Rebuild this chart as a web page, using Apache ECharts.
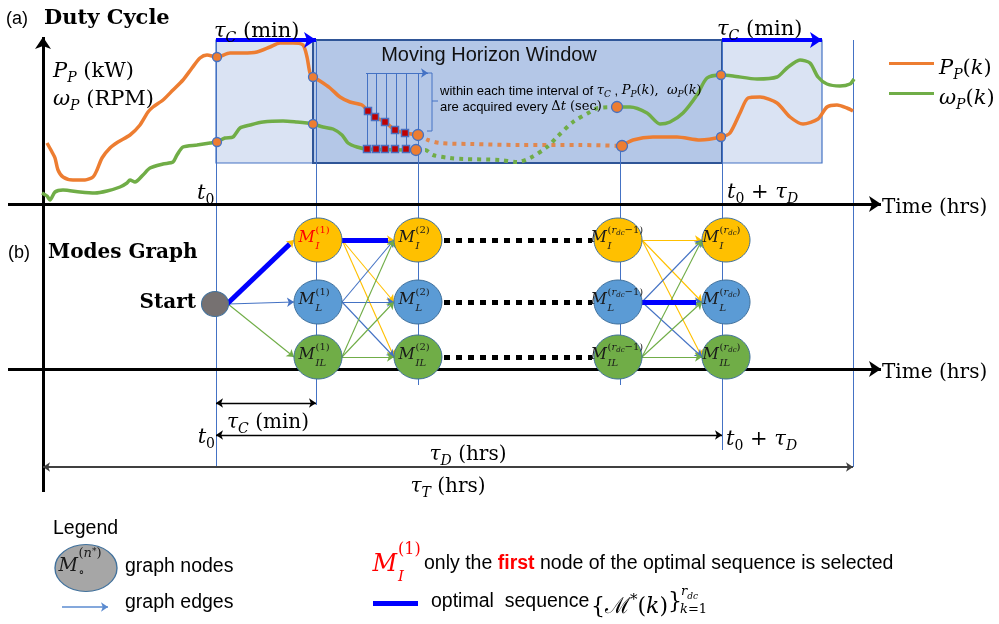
<!DOCTYPE html>
<html>
<head>
<meta charset="utf-8">
<script src="https://cdn.jsdelivr.net/npm/echarts@6/dist/echarts.min.js"></script>
<style>
  html, body { margin: 0; padding: 0; background: #fff; }
  #chart { width: 999px; height: 624px; }
</style>
</head>
<body>
<div id="chart"></div>
<script>
// ---------------- data (time on x, level on y; both in drawing units) ----------------
const powerHistory = [[47,143],[52,152],[55,158],[58,170],[63,177],[73,180],[85,180],[93,177],[97,170],[102,158],[110,148],[118,142],[130,135],[140,125],[148,112],[153,107],[163,100],[173,90],[183,80],[192,68],[200,58],[207,55],[217,57],[230,53],[243,53],[257,52],[270,47],[280,43],[293,43],[303,45],[307,57],[310,73],[313,77],[320,81],[330,88],[340,97],[350,102],[362,105],[368,111],[375,117],[385,122],[395,130],[405,133],[418,135]];
const powerForecast = [[418,135],[428,140],[440,143],[470,144],[520,145],[580,145],[622,146]];
const powerLater = [[622,146],[633,140],[653,137],[677,137],[700,140],[721,137],[730,133],[740,113],[748,98],[760,97],[777,103],[790,117],[803,124],[818,119],[827,107],[837,105],[847,108],[853,111]];

const speedHistory = [[42,193],[47,196],[50,200],[55,192],[63,190],[80,192],[95,193],[107,191],[120,187],[127,183],[130,180],[135,182],[143,175],[150,168],[163,164],[173,162],[177,155],[183,147],[197,145],[210,143],[217,142],[225,138],[233,137],[240,128],[250,125],[263,122],[283,121],[297,122],[307,123],[313,124],[323,127],[333,129],[342,135],[348,143],[357,147],[367,149],[416,150]];
const speedForecast = [[416,150],[425,150],[433,155],[450,158],[463,159],[500,160],[517,162],[530,158],[547,147],[557,137],[573,122],[590,112],[598,108],[617,107]];
const speedLater = [[617,107],[630,107],[647,113],[660,124],[670,122],[683,113],[697,95],[707,78],[721,75],[733,76],[757,79],[777,77],[787,68],[800,60],[810,63],[818,77],[827,84],[840,86],[850,84],[854,79]];

// measurements at the control-interval boundaries
const checkpoints = [[217,57],[313,77],[217,142],[313,124],[721,137],[721,75]];
const forecastEnds = [[418,135],[416,150],[622,146],[617,107]];
// fast samples taken every Δt inside the first interval
const powerSamples = [[368,111],[375,117],[385,122],[395,130],[405,133]];
const speedSamples = [[367,149],[376,149],[385,149],[395,149],[406,149]];
const sampleTimes = [367, 376, 386, 396, 406];

// time markers
const t0 = 216, tC = 316, tHorizonEnd = 722, tStart = 43, tEnd = 853;
const controlSpans = [[216, 316], [722, 822]];
const horizonSpan = [313, 722];
const panelBand = [40, 163];

// modes graph
const stageTimes = [318, 418, 618, 726];
const stageGuides = [316, 418, 620, 722];
const stageTags = ['1', '2', 'rdc-1', 'rdc'];
const modeKeys = ['I', 'L', 'IL'];
const modeLevels = [240, 302, 357];
const startNode = [215, 304];
// optimal sequence segments: [fromStage, fromMode, toStage, toMode]; -1 = start node
const optimalPath = [[-1, -1, 0, 0], [0, 0, 1, 0], [2, 1, 3, 1]];

// ---------------- styles ----------------
const SERIF = "'DejaVu Serif', 'Liberation Serif', serif";
const SANS = "'Liberation Sans', Arial, sans-serif";
const ORANGE = '#ED7D31', GREEN = '#70AD47', BLUE = '#4472C4', YELLOW = '#FFC000';
const modeFill = [YELLOW, '#5B9BD5', GREEN];
const edgeColor = [YELLOW, BLUE, GREEN];
const RX = 24, RY = 22;

// rich-text styles for inline math (italic variables, roman text, sub/superscripts)
function math(fs, color) {
  const base = Math.ceil(0.2 * fs);
  const small = Math.round(fs * 0.68);
  const subPad = Math.round(base + 0.456 * fs);
  const supPad = Math.max(0, Math.round(base - 0.144 * fs));
  const mk = o => Object.assign({ fill: color, color: color, fontFamily: SERIF, fontStyle: 'normal', fontWeight: 'normal', verticalAlign: 'top' }, o);
  return {
    v:  mk({ fontStyle: 'italic', fontSize: fs, lineHeight: fs, padding: [base, 0, 0, 0] }),
    r:  mk({ fontSize: fs, lineHeight: fs, padding: [base, 0, 0, 0] }),
    b:  mk({ fontStyle: 'italic', fontSize: small, lineHeight: small, padding: [subPad, 0, 0, 0] }),
    rb: mk({ fontSize: small, lineHeight: small, padding: [subPad, 0, 0, 0] }),
    p:  mk({ fontSize: small, lineHeight: small, padding: [supPad, 0, 0, 0] }),
    pv: mk({ fontStyle: 'italic', fontSize: small, lineHeight: small, padding: [supPad, 0, 0, 0] }),
    s:  mk({ fontFamily: SANS, fontSize: fs, lineHeight: fs, padding: [base, 0, 0, 0] })
  };
}
function mtext(x, y, text, fs, opt) {
  opt = opt || {};
  return { type: 'text', x: x, y: y, z: 60, silent: true,
    style: { text: text, rich: math(fs, opt.color || '#000'), align: opt.align || 'left', verticalAlign: 'middle' } };
}
function stext(x, y, text, fs, opt) {
  opt = opt || {};
  return { type: 'text', x: x, y: y, z: 60, silent: true,
    style: { text: text, font: (opt.style || 'normal') + ' ' + (opt.weight || 'normal') + ' ' + fs + 'px ' + (opt.family || SANS),
      fill: opt.color || '#000', align: opt.align || 'left', verticalAlign: 'middle' } };
}

// ---------------- derived geometry ----------------
function seg(a, b, extra) { return Object.assign({ coords: [a, b] }, extra || {}); }

const guideLines = [
  seg([t0, panelBand[0]], [t0, 468]),
  seg([stageGuides[0], panelBand[0]], [stageGuides[0], 405]),
  seg([stageGuides[1], 73], [stageGuides[1], 385]),
  seg([stageGuides[2], 146], [stageGuides[2], 385]),
  seg([stageGuides[3], panelBand[0]], [stageGuides[3], 450]),
  seg([tEnd, panelBand[0]], [tEnd, 467])
].concat(sampleTimes.map(t => seg([t, 73], [t, 150])));

const nodeLeft = (s, m) => [stageTimes[s] - RX, modeLevels[m]];
const nodeRight = (s, m) => [stageTimes[s] + RX, modeLevels[m]];

const graphEdges = [];
[[0, 1], [2, 3]].forEach(([a, b]) => {
  modeLevels.forEach((_, i) => modeLevels.forEach((__, j) => {
    graphEdges.push(seg(nodeRight(a, i), nodeLeft(b, j), { lineStyle: { color: edgeColor[i] } }));
  }));
});
const startEdges = modeLevels.map((_, j) =>
  seg([startNode[0] + 13, startNode[1]], nodeLeft(0, j), { lineStyle: { color: j === 2 ? GREEN : (j === 0 ? YELLOW : BLUE) } }));

const optimalLines = optimalPath.map(([fs, fm, ts, tm]) => {
  const from = fs < 0 ? [startNode[0] + 12, startNode[1]] : nodeRight(fs, fm);
  const to = nodeLeft(ts, tm);
  const dx = to[0] - from[0], dy = to[1] - from[1], L = Math.hypot(dx, dy);
  return seg(from, [to[0] - dx / L * 6, to[1] - dy / L * 6]);
});

const skipLines = modeLevels.map(y => seg([stageTimes[1] + RX + 2, y], [stageTimes[2] - RX - 2, y]));

const nodeData = [];
stageTimes.forEach((t, s) => modeLevels.forEach((y, m) => nodeData.push([t, y, s, m])));

function supRich(tag) {
  if (tag === 'rdc-1') return '{p|(}{pv|r}{q|dc}{p|−1)}';
  if (tag === 'rdc') return '{p|(}{pv|r}{q|dc}{p|)}';
  return '{p|(' + tag + ')}';
}
const supStyles = (color, fs) => {
  fs = fs || 10;
  const q = Math.round(fs * 0.7);
  return {
    p:  { fill: color, fontFamily: SERIF, fontSize: fs, lineHeight: fs, verticalAlign: 'top', padding: [0, 0, 0, 0] },
    pv: { fill: color, fontFamily: SERIF, fontStyle: 'italic', fontSize: fs, lineHeight: fs, verticalAlign: 'top', padding: [0, 0, 0, 0] },
    q:  { fill: color, fontFamily: SERIF, fontStyle: 'italic', fontSize: q, lineHeight: q, verticalAlign: 'top', padding: [Math.round(fs / 2), 0, 0, 0] },
    t:  { fill: color, fontFamily: SERIF, fontSize: q, lineHeight: q, verticalAlign: 'top', padding: [0, 0, 0, 0] }
  };
};
const labelShift = [-3, -3, -11, -7];

// ---------------- option ----------------
const option = {
  animation: false,
  backgroundColor: '#fff',
  grid: { left: 0, right: 0, top: 0, bottom: 0, outerBoundsMode: 'none' },
  xAxis: { type: 'value', min: 0, max: 999, show: false },
  yAxis: { type: 'value', min: 0, max: 624, inverse: true, show: false },
  legend: {
    orient: 'vertical', left: 884, top: 48, itemGap: 1,
    icon: 'rect', itemWidth: 45, itemHeight: 3, itemStyle: { borderWidth: 0 },
    data: ['power', 'speed'], selectedMode: false,
    formatter: n => n === 'power' ? '{v|P}{b|P}{r|(}{v|k}{r|)}' : '{v|ω}{b|P}{r|(}{v|k}{r|)}',
    textStyle: { rich: math(21, '#000') }
  },
  series: [
    // control interval boxes and the moving horizon window
    {
      type: 'custom', name: 'boxes', z: 1, silent: true,
      data: controlSpans.map(s => [s[0], s[1], 0]).concat([[horizonSpan[0], horizonSpan[1], 1]]),
      renderItem: (params, api) => {
        const a = api.coord([api.value(0), panelBand[0]]);
        const b = api.coord([api.value(1), panelBand[1]]);
        const dark = api.value(2) === 1;
        return { type: 'rect', shape: { x: a[0], y: a[1], width: b[0] - a[0], height: b[1] - a[1] },
          style: dark ? { fill: '#B4C7E7', stroke: '#2F5597', lineWidth: 2 } : { fill: '#DAE3F3', stroke: BLUE, lineWidth: 1.2 } };
      }
    },
    // thin guide lines
    { type: 'lines', coordinateSystem: 'cartesian2d', z: 2, silent: true, symbol: 'none',
      lineStyle: { color: BLUE, width: 1, opacity: 1 }, data: guideLines },
    // sampling arrow and bracket
    { type: 'lines', coordinateSystem: 'cartesian2d', z: 2, silent: true, symbol: ['none', 'arrow'], symbolSize: 7,
      lineStyle: { color: BLUE, width: 1, opacity: 1 }, data: [seg([366, 73], [428, 73])] },
    { type: 'lines', coordinateSystem: 'cartesian2d', polyline: true, z: 2, silent: true, symbol: 'none',
      lineStyle: { color: BLUE, width: 1, opacity: 1 },
      data: [{ coords: [[427, 73], [432, 73], [432, 131], [427, 131]] }, { coords: [[432, 101], [438, 101]] }] },
    // power and speed curves
    { type: 'line', name: 'power', color: ORANGE, data: powerHistory, showSymbol: false, smooth: 0.25, z: 3, lineStyle: { width: 3.5, color: ORANGE } },
    { type: 'line', name: 'powerForecast', data: powerForecast, showSymbol: false, smooth: 0.3, z: 3, lineStyle: { width: 4, color: '#E0874F', type: [4, 5] } },
    { type: 'line', name: 'powerLater', data: powerLater, showSymbol: false, smooth: 0.25, z: 3, lineStyle: { width: 3.5, color: ORANGE } },
    { type: 'line', name: 'speed', color: GREEN, data: speedHistory, showSymbol: false, smooth: 0.25, z: 3, lineStyle: { width: 3.5, color: GREEN } },
    { type: 'line', name: 'speedForecast', data: speedForecast, showSymbol: false, smooth: 0.3, z: 3, lineStyle: { width: 4, color: GREEN, type: [4, 5] } },
    { type: 'line', name: 'speedLater', data: speedLater, showSymbol: false, smooth: 0.25, z: 3, lineStyle: { width: 3.5, color: GREEN } },
    // measurement markers
    { type: 'scatter', z: 4, silent: true, symbol: 'circle', symbolSize: 9, data: checkpoints,
      itemStyle: { color: ORANGE, borderColor: BLUE, borderWidth: 1.3, opacity: 1 } },
    { type: 'scatter', z: 4, silent: true, symbol: 'circle', symbolSize: 11, data: forecastEnds,
      itemStyle: { color: ORANGE, borderColor: BLUE, borderWidth: 1.3, opacity: 1 } },
    { type: 'scatter', z: 4, silent: true, symbol: 'rect', symbolSize: 7, data: powerSamples.concat(speedSamples),
      itemStyle: { color: '#C00000', borderColor: '#4A6FC0', borderWidth: 1.5, opacity: 1 } },
    // time axes and the vertical value axis
    { type: 'lines', coordinateSystem: 'cartesian2d', z: 3, silent: true, symbol: ['none', 'arrow'], symbolSize: [11, 12],
      lineStyle: { color: '#000', width: 3, opacity: 1 },
      data: [seg([8, 204], [881, 204]), seg([8, 369], [881, 369]), seg([tStart, 492], [tStart, 37])] },
    // control interval arrows on top
    { type: 'lines', coordinateSystem: 'cartesian2d', z: 5, silent: true, symbol: ['none', 'arrow'], symbolSize: [11, 12],
      lineStyle: { color: '#0000FF', width: 4, opacity: 1 },
      data: controlSpans.map(s => seg([s[0], 40], [s[1], 40])) },
    // dimension arrows
    { type: 'lines', coordinateSystem: 'cartesian2d', z: 3, silent: true, symbol: ['arrow', 'arrow'], symbolSize: 7,
      lineStyle: { color: '#000', width: 1.3, opacity: 1 },
      data: [seg([t0, 403], [tC, 403]), seg([t0, 435], [tHorizonEnd, 435])] },
    { type: 'lines', coordinateSystem: 'cartesian2d', z: 3, silent: true, symbol: ['arrow', 'arrow'], symbolSize: 7,
      lineStyle: { color: '#404040', width: 2, opacity: 1 },
      data: [seg([tStart, 467], [tEnd, 467])] },
    // graph edges
    { type: 'lines', coordinateSystem: 'cartesian2d', z: 5, silent: true, symbol: ['none', 'arrow'], symbolSize: 7,
      lineStyle: { width: 1.1, opacity: 1 }, data: graphEdges.concat(startEdges) },
    { type: 'lines', coordinateSystem: 'cartesian2d', z: 6, silent: true, symbol: 'none',
      lineStyle: { color: '#0000FF', width: 5, opacity: 1 }, data: optimalLines },
    { type: 'lines', coordinateSystem: 'cartesian2d', z: 5, silent: true, symbol: 'none',
      lineStyle: { color: '#000', width: 5, opacity: 1, type: [6, 6], cap: 'butt' }, data: skipLines },
    // start node
    { type: 'scatter', z: 7, silent: true, symbol: 'circle', symbolSize: [27, 25], data: [startNode],
      itemStyle: { color: '#767171', borderColor: '#41719C', borderWidth: 1, opacity: 1 } },
    // mode nodes
    {
      type: 'custom', name: 'nodes', z: 7, silent: true, data: nodeData,
      renderItem: (params, api) => {
        const p = api.coord([api.value(0), api.value(1)]);
        const s = api.value(2), m = api.value(3);
        const col = (s === 0 && m === 0) ? '#FF0000' : '#1a1a1a';
        const x = p[0] + labelShift[s];
        return { type: 'group', children: [
          { type: 'ellipse', shape: { cx: p[0], cy: p[1], rx: RX, ry: RY }, style: { fill: modeFill[m], stroke: '#41719C', lineWidth: 1 } },
          { type: 'text', x: x, y: p[1] - 2, style: { text: 'M', font: 'italic 16px ' + SERIF, fill: col, align: 'right', verticalAlign: 'middle' } },
          { type: 'text', x: x + 0.5, y: p[1] - 10, style: { text: supRich(stageTags[s]), rich: supStyles(col), align: 'left', verticalAlign: 'middle' } },
          { type: 'text', x: x + 0.5, y: p[1] + 6, style: { text: modeKeys[m], font: 'italic 10px ' + SERIF, fill: col, align: 'left', verticalAlign: 'middle' } }
        ] };
      }
    },
    // legend swatches at the bottom
    { type: 'scatter', z: 7, silent: true, symbol: 'circle', symbolSize: [62, 47], data: [[86, 568]],
      itemStyle: { color: '#A6A6A6', borderColor: '#41719C', borderWidth: 1.2, opacity: 1 } },
    { type: 'lines', coordinateSystem: 'cartesian2d', z: 5, silent: true, symbol: ['none', 'arrow'], symbolSize: 7,
      lineStyle: { color: '#5B8BD0', width: 1.5, opacity: 1 }, data: [seg([62, 607], [108, 607])] },
    { type: 'lines', coordinateSystem: 'cartesian2d', z: 5, silent: true, symbol: 'none',
      lineStyle: { color: '#0000FF', width: 5, opacity: 1 }, data: [seg([373, 603], [418, 603])] }
  ],
  graphic: { elements: [
    stext(6, 19, '(a)', 18),
    stext(44, 19, 'Duty Cycle', 21, { weight: 'bold', family: SERIF }),
    stext(8, 253, '(b)', 18),
    stext(48, 253, 'Modes Graph', 20, { weight: 'bold', family: SERIF }),
    stext(196, 303, 'Start', 20, { weight: 'bold', family: SERIF, align: 'right' }),
    mtext(53, 67, '{v|P}{b|P}{r| (kW)}', 21),
    mtext(53, 95, '{v|ω}{b|P}{r| (RPM)}', 21),
    mtext(197, 189, '{v|t}{rb|0}', 21),
    mtext(214, 27, '{v|τ}{b|C}{r| (min)}', 21),
    mtext(717, 25, '{v|τ}{b|C}{r| (min)}', 21),
    mtext(727, 188, '{v|t}{rb|0}{r| + }{v|τ}{b|D}', 21),
    mtext(882, 204, '{r|Time (hrs)}', 20),
    mtext(882, 369, '{r|Time (hrs)}', 20),
    stext(489, 55, 'Moving Horizon Window', 20, { align: 'center', color: '#111' }),
    mtext(440, 88, '{s|within each time interval of }{v|τ}{b|C}{s| , }{v|P}{b|P}{r|(}{v|k}{r|),  }{v|ω}{b|P}{r|(}{v|k}{r|)}', 13),
    mtext(440, 104, '{s|are acquired every }{r|Δ}{v|t}{r| (sec)}', 13),
    mtext(268, 419, '{v|τ}{b|C}{r| (min)}', 20, { align: 'center' }),
    mtext(215, 433, '{v|t}{rb|0}', 21, { align: 'right' }),
    mtext(726, 435, '{v|t}{rb|0}{r| + }{v|τ}{b|D}', 21),
    mtext(468, 451, '{v|τ}{b|D}{r| (hrs)}', 20, { align: 'center' }),
    mtext(448, 483, '{v|τ}{b|T}{r| (hrs)}', 20, { align: 'center' }),
    stext(53, 529, 'Legend', 19.5),
    // legend node label
    { type: 'text', x: 78, y: 566, z: 60, style: { text: 'M', font: 'italic 19px ' + SERIF, fill: '#1a1a1a', align: 'right', verticalAlign: 'middle' } },
    { type: 'text', x: 78.5, y: 554, z: 60, style: { text: '{p|(}{pv|n}{t|*}{p|)}', rich: supStyles('#1a1a1a', 13), align: 'left', verticalAlign: 'middle' } },
    { type: 'text', x: 78.5, y: 573, z: 60, style: { text: '∘', font: '12px ' + SERIF, fill: '#1a1a1a', align: 'left', verticalAlign: 'middle' } },
    stext(125, 567, 'graph nodes', 19.5),
    stext(125, 603, 'graph edges', 19.5),
    // red M_I^(1)
    { type: 'text', x: 397, y: 565, z: 60, style: { text: 'M', font: 'italic 24px ' + SERIF, fill: '#FF0000', align: 'right', verticalAlign: 'middle' } },
    { type: 'text', x: 398, y: 550, z: 60, style: { text: '(1)', font: '16px ' + SERIF, fill: '#FF0000', align: 'left', verticalAlign: 'middle' } },
    { type: 'text', x: 398, y: 577, z: 60, style: { text: 'I', font: 'italic 15px ' + SERIF, fill: '#FF0000', align: 'left', verticalAlign: 'middle' } },
    { type: 'text', x: 424, y: 564, z: 60, style: { text: 'only the {red|first} node of the optimal sequence is selected', font: '19.5px ' + SANS, fill: '#000', align: 'left', verticalAlign: 'middle',
      rich: { red: { fill: '#FF0000', fontWeight: 'bold', fontFamily: SANS, fontSize: 19.5 } } } },
    stext(431, 602, 'optimal  sequence', 19.5),
    mtext(591, 602, '{r|{ℳ}{p|*}{r|(}{v|k}{r|)}', 22),
    stext(668, 602, '}', 22, { family: SERIF }),
    { type: 'text', x: 681, y: 592, z: 60, style: { text: '{pv|r}{q|dc}', rich: supStyles('#000', 13), align: 'left', verticalAlign: 'middle' } },
    { type: 'text', x: 680, y: 610, z: 60, style: { text: '{pv|k}{p|=1}', rich: supStyles('#000', 13), align: 'left', verticalAlign: 'middle' } }
  ] }
};

const chart = echarts.init(document.getElementById('chart'));
chart.setOption(option);
</script>
</body>
</html>
